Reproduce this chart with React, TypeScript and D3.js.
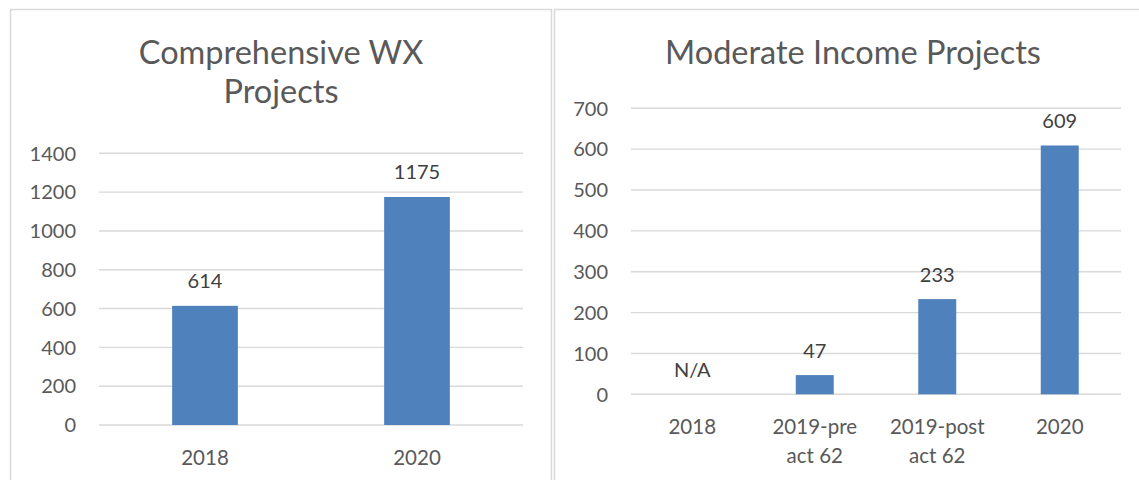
import React from 'react';
import * as d3 from 'd3';

// Comprehensive WX chart
const wxCategories = [['2018'], ['2020']];
const wxValues = [614, 1175];
const wxTicks = [0, 200, 400, 600, 800, 1000, 1200, 1400];

// Moderate income chart (2018 has no value -> N/A)
const modCategories = [['2018'], ['2019-pre', 'act 62'], ['2019-post', 'act 62'], ['2020']];
const modValues = [null, 47, 233, 609];
const modTicks = [0, 100, 200, 300, 400, 500, 600, 700];

const FONT = 'Lato, "Open Sans", sans-serif';
const BAR = '#4f81bd';
const GRID = '#d9d9d9';

type PanelProps = {
    title: string[];
    titleX: number;
    categories: string[][];
    values: (number | null)[];
    ticks: number[];
    x0: number;
    x1: number;
    yTop: number;
    yBottom: number;
};

function BarPanel({ title, titleX, categories, values, ticks, x0, x1, yTop, yBottom }: PanelProps) {
    const x = d3.scaleBand<number>()
        .domain(categories.map((_, i) => i))
        .range([x0, x1])
        .paddingInner(0.69)
        .paddingOuter(0.345);

    const y = d3.scaleLinear()
        .domain([0, ticks[ticks.length - 1]])
        .range([yBottom, yTop]);

    const bw = x.bandwidth();

    return (
        <g>
            {title.map((t, i) => (
                <text key={t} x={titleX} y={63.5 + i * 39} textAnchor="middle"
                    fontSize={32.5} fill="#595959">{t}</text>
            ))}

            {/* gridlines + tick labels */}
            {ticks.map(t => (
                <g key={t}>
                    <line x1={x0} x2={x1} y1={y(t)} y2={y(t)} stroke={GRID} strokeWidth={1.4} />
                    <text x={x0 - 23} y={y(t)} dy="0.36em" textAnchor="end"
                        fontSize={20} fill="#595959">{t}</text>
                </g>
            ))}

            {/* bars */}
            {values.map((v, i) => v == null ? null : (
                <rect key={i} x={x(i)} width={bw} y={y(v)} height={y(0) - y(v)} fill={BAR} />
            ))}

            {/* value labels */}
            {values.map((v, i) => (
                <text key={i} x={(x(i) as number) + bw / 2} y={y(v ?? 0) - 17.5}
                    textAnchor="middle" fontSize={20} fill="#404040">
                    {v == null ? 'N/A' : v}
                </text>
            ))}

            {/* category labels */}
            {categories.map((lines, i) => (
                <text key={i} x={(x(i) as number) + bw / 2} y={y(0) + 39.5}
                    textAnchor="middle" fontSize={20.5} fill="#595959">
                    {lines.map((l, j) => (
                        <tspan key={j} x={(x(i) as number) + bw / 2} dy={j === 0 ? 0 : 29.5}>{l}</tspan>
                    ))}
                </text>
            ))}
        </g>
    );
}

export default function App() {
    return (
        <svg width={1139} height={480} style={{ position: 'absolute', left: 0, top: 0, background: '#fff' }}
            fontFamily={FONT}>
            <rect x={0} y={0} width={1139} height={480} fill="#fff" />
            {/* chart frames */}
            <rect x={10.5} y={9.5} width={541} height={500} fill="none" stroke={GRID} strokeWidth={1.5} />
            <rect x={554.5} y={9.5} width={620} height={500} fill="none" stroke={GRID} strokeWidth={1.5} />

            <BarPanel
                title={['Comprehensive WX', 'Projects']}
                titleX={281}
                categories={wxCategories}
                values={wxValues}
                ticks={wxTicks}
                x0={99} x1={523}
                yTop={153.3} yBottom={425}
            />
            <BarPanel
                title={['Moderate Income Projects']}
                titleX={853}
                categories={modCategories}
                values={modValues}
                ticks={modTicks}
                x0={631} x1={1121}
                yTop={108.3} yBottom={394.3}
            />
        </svg>
    );
}
